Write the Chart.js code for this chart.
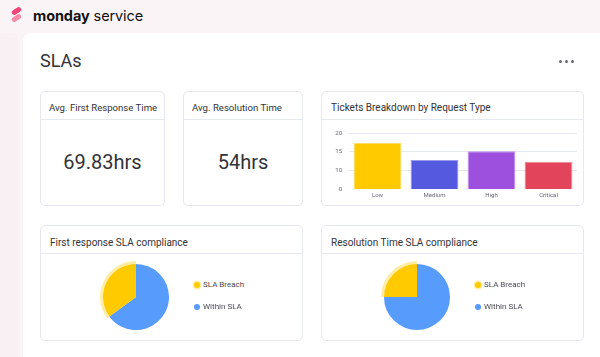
<!DOCTYPE html>
<html>
<head>
<meta charset="utf-8">
<script src="https://cdn.jsdelivr.net/npm/chart.js@4/dist/chart.umd.min.js"></script>
<style>
  html, body { margin: 0; padding: 0; }
  body { width: 600px; height: 357px; position: relative; overflow: hidden; background: #fbf4f6; font-family: Roboto, "Noto Sans", sans-serif; color: #323338; }
  .abs { position: absolute; }
  .side { left: 0; top: 33px; width: 18px; height: 330px; background: #f9f0f3; border-top-right-radius: 6px; }
  .panel { left: 23px; top: 33px; width: 600px; height: 340px; background: #fff; border-top-left-radius: 7px; }
  .card { position: absolute; background: #fff; border: 1px solid #e6e8ef; border-radius: 5px; box-sizing: border-box; }
  .card .hd { position: absolute; left: 0; right: 0; top: 0; border-bottom: 1px solid #e6e8ef; box-sizing: border-box; font-size: 9.6px; white-space: nowrap; }
  .big { position: absolute; left: 0; right: 0; text-align: center; font-size: 20px; }
  .leg { position: absolute; font-size: 8px; color: #4a4b55; white-space: nowrap; line-height: 10px; }
  .leg i { position: absolute; left: -9px; top: 2px; width: 6px; height: 6px; border-radius: 50%; }
  .logo-bar { position: absolute; width: 5px; height: 10px; border-radius: 3px; transform: rotate(58deg); }
  canvas { display: block; }
</style>
</head>
<body>
<div class="abs side"></div>
<div class="abs panel"></div>

<!-- logo -->
<div class="logo-bar" style="left:14px;top:6px;background:#f2457a;"></div>
<div class="logo-bar" style="left:14px;top:13px;background:#f98aa8;"></div>
<div class="abs" style="left:33px;top:7px;font-family:Inter, 'Open Sans', sans-serif;font-size:14.5px;line-height:18px;color:#111;letter-spacing:-0.1px;white-space:nowrap;"><b style="font-weight:700;">monday</b> <span style="font-weight:400;">service</span></div>

<div class="abs" style="left:40px;top:50px;font-size:18px;line-height:22px;">SLAs</div>
<div class="abs" style="left:559px;top:60px;width:3px;height:3px;border-radius:50%;background:#676879;"></div>
<div class="abs" style="left:565px;top:60px;width:3px;height:3px;border-radius:50%;background:#676879;"></div>
<div class="abs" style="left:571px;top:60px;width:3px;height:3px;border-radius:50%;background:#676879;"></div>

<div class="card" style="left:40px;top:91px;width:125px;height:115px;">
  <div class="hd" style="height:28px;line-height:32px;padding-left:8px;" id="t1"></div>
  <div class="big" style="top:58px;" id="v1"></div>
</div>
<div class="card" style="left:183px;top:91px;width:120px;height:115px;">
  <div class="hd" style="height:28px;line-height:32px;padding-left:8px;" id="t2"></div>
  <div class="big" style="top:58px;" id="v2"></div>
</div>
<div class="card" style="left:321px;top:91px;width:263px;height:115px;">
  <div class="hd" style="height:28px;line-height:32px;padding-left:9px;font-size:10px;">Tickets Breakdown by Request Type</div>
</div>
<div class="abs" style="left:321px;top:119px;width:262px;height:86px;"><canvas id="bar"></canvas></div>

<div class="card" style="left:40px;top:225px;width:263px;height:116px;">
  <div class="hd" style="height:28px;line-height:34px;padding-left:9px;font-size:10px;">First response SLA compliance</div>
</div>
<div class="card" style="left:321px;top:225px;width:263px;height:116px;">
  <div class="hd" style="height:28px;line-height:34px;padding-left:9px;font-size:10px;">Resolution Time SLA compliance</div>
</div>
<div class="abs" style="left:100px;top:261px;width:72px;height:72px;"><canvas id="pie1"></canvas></div>
<div class="abs" style="left:381px;top:261px;width:72px;height:72px;"><canvas id="pie2"></canvas></div>
<div id="leg1"></div>
<div id="leg2"></div>

<script>
// ---- data ----
const kpiTitles = ['Avg. First Response Time', 'Avg. Resolution Time'];
const kpiValues = ['69.83hrs', '54hrs'];

const requestTypes = ['Low', 'Medium', 'High', 'Critical'];
const ticketCounts = [17.3, 12.8, 15.1, 12.3];
const ticketColors = ['#ffcb00', '#5559df', '#9d50dd', '#e2445c'];
const yTickValues = [5, 10, 15, 20];
const yTickLabels = ['0', '10', '15', '20'];

const slaLabels = ['SLA Breach', 'Within SLA'];
const slaColors = ['#ffcb00', '#579bfc'];
const firstResponseSla = [35, 65];
const resolutionSla = [25, 75];

// ---- KPI cards ----
document.getElementById('t1').textContent = kpiTitles[0];
document.getElementById('t2').textContent = kpiTitles[1];
document.getElementById('v1').textContent = kpiValues[0];
document.getElementById('v2').textContent = kpiValues[1];

Chart.defaults.font.family = 'Roboto, "Noto Sans", sans-serif';
Chart.defaults.animation = false;

// ---- bar chart ----
new Chart(document.getElementById('bar'), {
  type: 'bar',
  data: {
    labels: requestTypes,
    datasets: [{
      data: ticketCounts,
      backgroundColor: ticketColors,
      borderColor: ticketColors.map(c => c + '99'),
      borderWidth: 1,
      categoryPercentage: 1,
      barPercentage: 0.84
    }]
  },
  options: {
    responsive: true,
    maintainAspectRatio: false,
    layout: { padding: { top: 14, right: 6, left: 0, bottom: 0 } },
    plugins: { legend: { display: false }, tooltip: { enabled: false } },
    scales: {
      x: {
        grid: { display: false, drawTicks: false },
        border: { display: false },
        ticks: { color: '#676879', font: { size: 6 }, padding: 3 },
        afterFit: s => { s.height = 16; }
      },
      y: {
        min: yTickValues[0],
        max: yTickValues[yTickValues.length - 1],
        afterBuildTicks: s => { s.ticks = yTickValues.map(v => ({ value: v })); },
        grid: { color: ctx => (ctx.tick && ctx.tick.value === yTickValues[0]) ? 'rgba(0,0,0,0)' : '#e7e9f1', drawTicks: false },
        border: { display: false },
        ticks: {
          color: '#676879', font: { size: 6 }, padding: 7,
          callback: (v) => { const i = yTickValues.indexOf(v); return i >= 0 ? yTickLabels[i] : ''; }
        },
        afterFit: s => { s.width = 28; }
      }
    }
  }
});

// ---- pies ----
function makePie(id, values) {
  const vals = values.slice().reverse();
  const cols = slaColors.slice().reverse();
  const halo = cols.map((c, i) => i === cols.length - 1 ? 'rgba(255,203,0,0.35)' : 'rgba(0,0,0,0)');
  new Chart(document.getElementById(id), {
    type: 'pie',
    data: {
      labels: slaLabels.slice().reverse(),
      datasets: [
        { data: vals, backgroundColor: halo, borderWidth: 0, weight: 1 },
        { data: vals, backgroundColor: cols, borderWidth: 0, weight: 11 }
      ]
    },
    options: {
      responsive: true,
      maintainAspectRatio: false,
      layout: { padding: 0 },
      plugins: { legend: { display: false }, tooltip: { enabled: false } }
    }
  });
}
makePie('pie1', firstResponseSla);
makePie('pie2', resolutionSla);

// ---- legends ----
function makeLegend(id, x) {
  const host = document.getElementById(id);
  slaLabels.forEach((lab, i) => {
    const d = document.createElement('div');
    d.className = 'leg';
    d.style.left = x + 'px';
    d.style.top = (280 + i * 22) + 'px';
    const m = document.createElement('i');
    m.style.background = slaColors[i];
    if (i === 0) m.style.boxShadow = '0 0 0 1.5px rgba(255,203,0,0.35)';
    d.appendChild(m);
    d.appendChild(document.createTextNode(lab));
    host.appendChild(d);
  });
}
makeLegend('leg1', 203);
makeLegend('leg2', 484);
</script>
</body>
</html>
